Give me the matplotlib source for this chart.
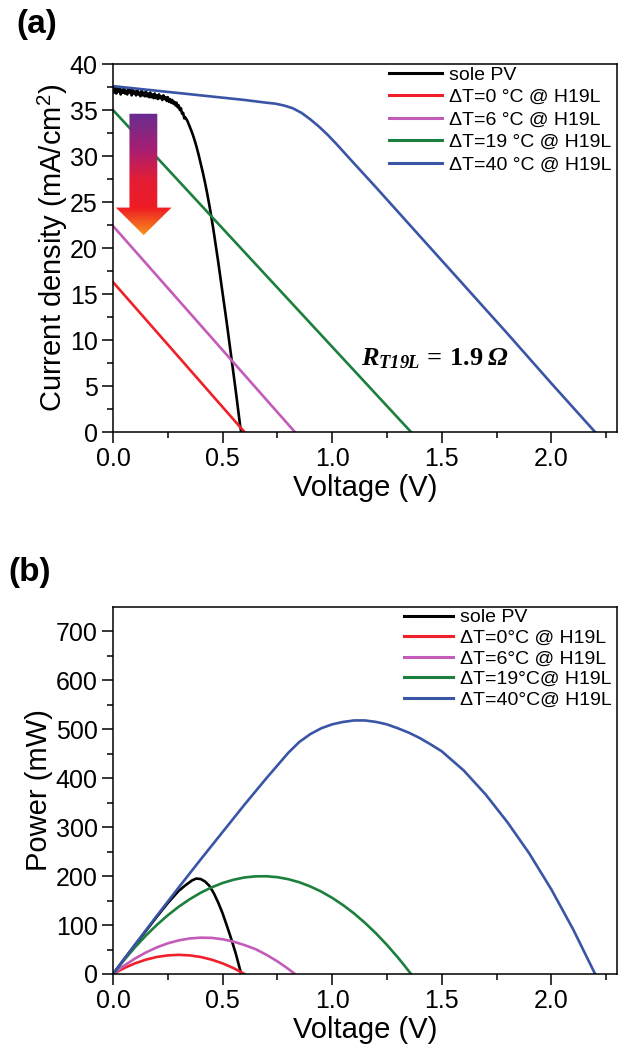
import numpy as np
import matplotlib
matplotlib.use("Agg")
import matplotlib.pyplot as plt
from matplotlib.patches import Polygon
from matplotlib.colors import LinearSegmentedColormap

plt.rcParams['font.family'] = ['Liberation Sans', 'DejaVu Sans']
plt.rcParams['mathtext.fontset'] = 'custom'
plt.rcParams['mathtext.rm'] = 'Liberation Serif:italic:bold'
plt.rcParams['mathtext.it'] = 'Liberation Serif:italic:bold'
plt.rcParams['mathtext.bf'] = 'Liberation Serif:bold'
plt.rcParams['mathtext.sf'] = 'Liberation Sans'

# ---------------- data: panel (a) J-V ----------------
v_pv = [0.000, 0.005, 0.010, 0.015, 0.020, 0.025, 0.030, 0.035, 0.040, 0.045, 0.050, 0.055,
        0.060, 0.065, 0.070, 0.075, 0.080, 0.085, 0.090, 0.095, 0.100, 0.105, 0.110, 0.115,
        0.120, 0.125, 0.130, 0.135, 0.140, 0.145, 0.150, 0.155, 0.160, 0.165, 0.170, 0.175,
        0.180, 0.185, 0.190, 0.195, 0.200, 0.205, 0.210, 0.215, 0.220, 0.225, 0.230, 0.235,
        0.240, 0.245, 0.250, 0.255, 0.260, 0.265, 0.270, 0.275, 0.280, 0.285, 0.290, 0.295,
        0.300, 0.305, 0.310, 0.315, 0.320, 0.325, 0.330,
        0.34, 0.35, 0.36, 0.37, 0.38, 0.39, 0.40, 0.41, 0.42, 0.43, 0.44, 0.45, 0.46, 0.47,
        0.48, 0.49, 0.50, 0.51, 0.52, 0.53, 0.54, 0.55, 0.56, 0.57, 0.58, 0.585]
j_pv = [37.4, 36.9, 37.5, 36.8, 37.3, 37.0, 37.5, 36.7, 37.2, 36.9, 37.4, 36.8,
        37.1, 36.7, 37.3, 36.9, 37.2, 36.6, 37.2, 36.8, 37.0, 36.6, 37.2, 36.7,
        36.9, 36.5, 37.1, 36.6, 36.9, 36.5, 37.0, 36.5, 36.8, 36.4, 36.9, 36.4,
        36.7, 36.3, 36.8, 36.3, 36.6, 36.2, 36.7, 36.3, 36.5, 36.1, 36.6, 36.2,
        36.4, 36.0, 36.4, 35.9, 36.2, 35.8, 36.1, 35.7, 35.9, 35.5, 35.8, 35.3,
        35.5, 35.0, 35.2, 34.6, 34.7, 34.1, 34.2,
        33.8, 33.2, 32.6, 31.9, 31.1, 30.2, 29.2, 28.2, 27.1, 25.9, 24.6, 23.2, 21.7, 20.1,
        18.5, 16.8, 15.1, 13.4, 11.7, 9.9, 8.1, 6.3, 4.5, 2.6, 0.7, 0.0]

v_dt0 = [0.0, 0.60]
j_dt0 = [16.3, 0.0]
v_dt6 = [0.0, 0.83]
j_dt6 = [22.4, 0.0]
v_dt19 = [0.0, 1.36]
j_dt19 = [35.0, 0.0]
v_dt40 = [0.0, 0.2, 0.4, 0.6, 0.7, 0.74, 0.78, 0.82, 0.86, 0.90, 0.94, 0.98, 1.02, 1.1, 1.2,
          1.4, 1.6, 1.8, 2.0, 2.2]
j_dt40 = [37.6, 37.1, 36.6, 36.1, 35.8, 35.7, 35.5, 35.2, 34.7, 34.0, 33.2, 32.3, 31.3, 29.2, 26.6,
          21.3, 16.0, 10.7, 5.3, 0.0]

# ---------------- data: panel (b) P-V ----------------
vp_pv = [0.0, 0.05, 0.10, 0.15, 0.20, 0.25, 0.30, 0.33, 0.36, 0.38, 0.40, 0.42, 0.44, 0.46, 0.48,
         0.50, 0.52, 0.54, 0.56, 0.585]
p_pv = [0, 30, 59, 88, 117, 145, 170, 181, 191, 195, 194, 189, 180, 165, 146, 124, 98, 71, 42, 0]

vp_dt0 = [0.0, 0.05, 0.10, 0.15, 0.20, 0.25, 0.30, 0.35, 0.40, 0.45, 0.50, 0.55, 0.60]
p_dt0 = [0, 11.9, 21.7, 29.3, 34.8, 38.0, 39.1, 38.0, 34.8, 29.3, 21.7, 12.0, 0]

vp_dt6 = [0.0, 0.05, 0.10, 0.15, 0.20, 0.25, 0.30, 0.35, 0.40, 0.45, 0.50, 0.55, 0.60, 0.65, 0.70,
          0.75, 0.80, 0.83]
p_dt6 = [0, 16.8, 31.5, 44.0, 54.4, 62.7, 68.7, 72.6, 74.2, 73.8, 71.0, 66.1, 59.1, 50.9, 39.3,
         25.9, 10.4, 0]

vp_dt19 = [0.0, 0.05, 0.1, 0.15, 0.2, 0.25, 0.3, 0.35, 0.4, 0.45, 0.5, 0.55, 0.6, 0.65, 0.7, 0.75,
           0.8, 0.85, 0.9, 0.95, 1.0, 1.05, 1.1, 1.15, 1.2, 1.25, 1.3, 1.32, 1.36]
p_dt19 = [0, 28.3, 54.5, 78.5, 100.3, 120.0, 137.5, 152.8, 166.0, 177.0, 185.9, 192.6, 197.2, 199.5,
          199.7, 197.8, 193.7, 187.4, 178.9, 168.4, 155.6, 140.7, 123.7, 104.4, 83.0, 59.4, 33.7,
          22.8, 0]

vp_dt40 = [0.0, 0.1, 0.2, 0.3, 0.4, 0.5, 0.6, 0.7, 0.8, 0.85, 0.9, 0.95, 1.0, 1.05, 1.1, 1.15,
           1.2, 1.25, 1.3, 1.35, 1.4, 1.45, 1.5, 1.6, 1.7, 1.8, 1.9, 2.0, 2.1, 2.2]
p_dt40 = [0, 60, 119, 177, 234, 290, 346, 400, 452, 474, 490, 502, 510, 515, 518, 518,
          515, 510, 502, 493, 482, 469, 455, 416, 367, 310, 246, 173, 91, 0]

labels_a = ['sole PV', 'ΔT=0 °C @ H19L', 'ΔT=6 °C @ H19L', 'ΔT=19 °C @ H19L', 'ΔT=40 °C @ H19L']
labels_b = ['sole PV', 'ΔT=0°C @ H19L', 'ΔT=6°C @ H19L', 'ΔT=19°C@ H19L', 'ΔT=40°C@ H19L']
colors = ['#000000', '#f0202a', '#c25cb8', '#1c7f3d', '#3a55a6']

LW = 1.9
TICK_FS = 18
LABEL_FS = 21
LEG_FS = 14

fig = plt.figure(figsize=(6.21, 10.61), dpi=100)
ax1 = fig.add_axes([0.182, 0.5928, 0.8116, 0.3468])
ax2 = fig.add_axes([0.182, 0.082, 0.8116, 0.346])


def style(ax):
    for s in ax.spines.values():
        s.set_linewidth(1.1)
    ax.tick_params(which='major', direction='out', length=8, width=1.1, labelsize=TICK_FS,
                   top=False, right=False, pad=3)
    ax.tick_params(which='minor', direction='out', length=4.5, width=1.1, top=False, right=False)
    ax.set_xlim(0, 2.3)
    ax.set_xticks([0.0, 0.5, 1.0, 1.5, 2.0])
    ax.set_xticks(np.arange(0.25, 2.3, 0.5), minor=True)
    ax.set_xticklabels(['0.0', '0.5', '1.0', '1.5', '2.0'])


# ---- panel (a)
series_a = [(v_pv, j_pv), (v_dt0, j_dt0), (v_dt6, j_dt6), (v_dt19, j_dt19), (v_dt40, j_dt40)]
for (x, y), c, lab in zip(series_a, colors, labels_a):
    ax1.plot(x, y, color=c, lw=LW, label=lab, solid_joinstyle='round')
style(ax1)
ax1.set_ylim(0, 40)
ax1.set_yticks(np.arange(0, 41, 5))
ax1.set_yticks(np.arange(2.5, 40, 5), minor=True)
ax1.set_xlabel('Voltage (V)', fontsize=LABEL_FS, labelpad=2)
ax1.set_ylabel(r'Current density (mA/cm$^{\mathsf{2}}$)', fontsize=LABEL_FS, labelpad=0)
leg1 = ax1.legend(loc='upper left', bbox_to_anchor=(0.548, 0.995), frameon=False, fontsize=LEG_FS,
                  handlelength=2.7, handletextpad=0.35, labelspacing=0.25, borderpad=0,
                  borderaxespad=0)
for l in leg1.get_lines():
    l.set_linewidth(2.2)
ax1.text(1.47, 8.0, r'$R_{T19L}\mathbf{\,=\,1.9\;}Ω$', fontsize=19,
         ha='center', va='center')

# gradient arrow
arrow_xy = np.array([[0.075, 34.6], [0.202, 34.6], [0.202, 24.4], [0.267, 24.4], [0.14, 21.4],
                     [0.013, 24.4], [0.075, 24.4]])
poly = Polygon(arrow_xy, closed=True, facecolor='none', edgecolor='none')
ax1.add_patch(poly)
cmap = LinearSegmentedColormap.from_list('arr', [(0.0, '#f7941d'), (0.22, '#ee1c24'),
                                                 (0.45, '#e41d35'), (0.7, '#a81f72'),
                                                 (1.0, '#662d91')])
grad = np.linspace(0, 1, 256).reshape(-1, 1)
im = ax1.imshow(grad, cmap=cmap, origin='lower', extent=[0.013, 0.267, 21.4, 34.6],
                aspect='auto', zorder=3, interpolation='bilinear')
im.set_clip_path(poly)
ax1.set_xlim(0, 2.3)
ax1.set_ylim(0, 40)

# ---- panel (b)
series_b = [(vp_pv, p_pv), (vp_dt0, p_dt0), (vp_dt6, p_dt6), (vp_dt19, p_dt19), (vp_dt40, p_dt40)]
for (x, y), c, lab in zip(series_b, colors, labels_b):
    ax2.plot(x, y, color=c, lw=LW, label=lab, solid_joinstyle='round')
style(ax2)
ax2.set_ylim(0, 750)
ax2.set_yticks(np.arange(0, 701, 100))
ax2.set_yticks(np.arange(50, 750, 100), minor=True)
ax2.set_xlabel('Voltage (V)', fontsize=LABEL_FS, labelpad=2)
ax2.set_ylabel('Power (mW)', fontsize=LABEL_FS, labelpad=2)
leg2 = ax2.legend(loc='upper left', bbox_to_anchor=(0.578, 0.995), frameon=False, fontsize=LEG_FS,
                  handlelength=2.5, handletextpad=0.35, labelspacing=0.15, borderpad=0,
                  borderaxespad=0)
for l in leg2.get_lines():
    l.set_linewidth(2.2)

fig.text(37 / 621, 1 - 25 / 1061, '(a)', fontsize=24, fontweight='bold', ha='center', va='center')
fig.text(30 / 621, 1 - 572 / 1061, '(b)', fontsize=24, fontweight='bold', ha='center', va='center')

fig.savefig('out.png', dpi=100)
